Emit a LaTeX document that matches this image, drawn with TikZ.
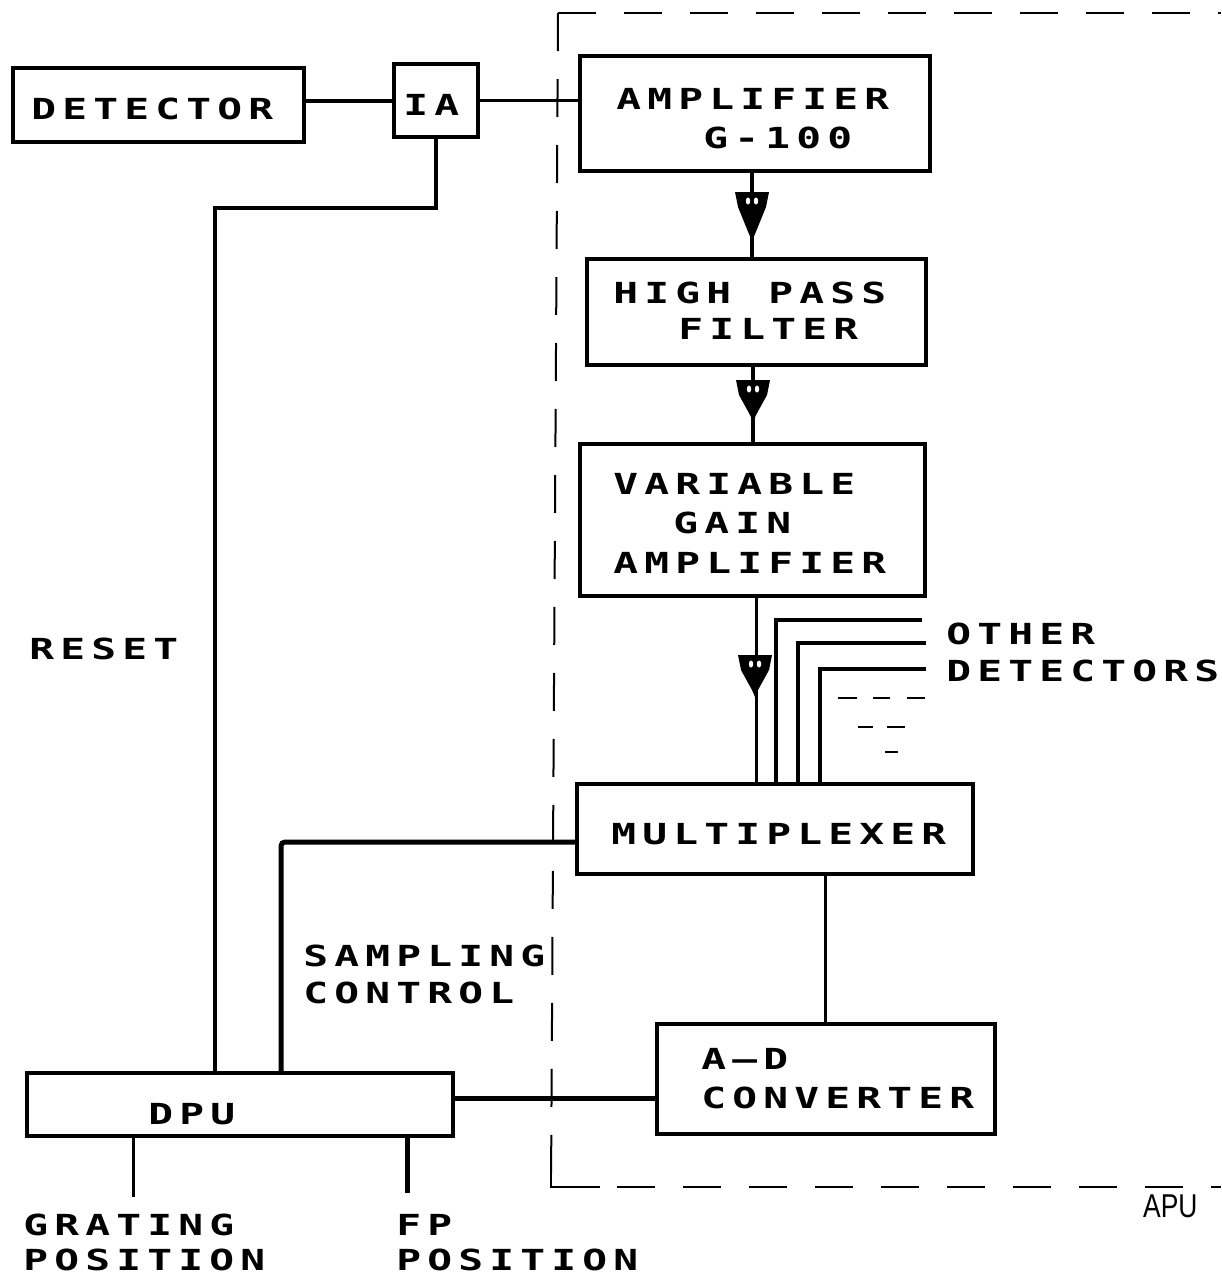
\documentclass[tikz,border=0pt]{standalone}
\usepackage{fontspec}
\usepackage{graphicx}
\setmainfont{DejaVu Sans Mono}
\newfontfamily\handfont{Liberation Sans}
\usetikzlibrary{fit}
\ExplSyntaxOn
\NewDocumentCommand\pltext{m}{\tl_map_inline:nn{#1}{\makebox[31pt][c]{\scalebox{1.42}[1]{##1}}}}
\ExplSyntaxOff
\newcommand\sigtip[3]{%
  \fill (#1-17,#2) -- (#1+17,#2) -- (#1+14,#2+15) -- (#1+3,#3-7) -- (#1,#3) -- (#1-3,#3-7) -- (#1-14,#2+15) -- cycle;
  \fill[white] (#1-4,#2+9) ellipse (2.2 and 3.5);
  \fill[white] (#1+4,#2+9) ellipse (2.2 and 3.5);}
\begin{document}
\begin{tikzpicture}[x=1pt,y=-1pt,
  box/.style={draw, line width=4.5pt, inner sep=0pt},
  thinbox/.style={draw, line width=3.5pt, inner sep=0pt},
  wire/.style={line width=4pt},
  thinwire/.style={line width=3pt},
  lbl/.style={anchor=base west, inner sep=0pt, text depth=0pt, font=\fontsize{29}{32}\selectfont\bfseries},
  dashb/.style={line width=2pt, dash pattern=on 38pt off 28pt}]
\useasboundingbox (0,0) rectangle (1221,1277);

% boxes
\node[box, fit={(13,68) (304,142)}] (det) {};
\node[box, fit={(394,64) (478,137)}] (ia) {};
\node[box, fit={(580,56) (930,171)}] (amp) {};
\node[box, fit={(587,259) (926,365)}] (hpf) {};
\node[thinbox, fit={(580,444) (925,596)}] (vga) {};
\node[thinbox, fit={(577,784) (973,874)}] (mux) {};
\node[box, fit={(657,1024) (995,1134)}] (adc) {};
\node[thinbox, fit={(27,1073) (453,1136)}] (dpu) {};

% texts
\node[lbl] (tdet) at (28,119) {\pltext{DETECTOR}};
\node[lbl] (tia) at (400,115) {\pltext{IA}};
\node[lbl] (tamp1) at (613,109) {\pltext{AMPLIFIER}};
\node[lbl] (tamp2) at (700,148) {\pltext{G-100}};
\node[lbl] (thpf1) at (610,303) {\pltext{HIGH~PASS}};
\node[lbl] (thpf2) at (675,339) {\pltext{FILTER}};
\node[lbl] (tvga1) at (610,494) {\pltext{VARIABLE}};
\node[lbl] (tvga2) at (670,533) {\pltext{GAIN}};
\node[lbl] (tvga3) at (610,573) {\pltext{AMPLIFIER}};
\node[lbl] (toth1) at (943,644) {\pltext{OTHER}};
\node[lbl] (toth2) at (943,681) {\pltext{DETECTORS}};
\node[lbl] (treset) at (26,659) {\pltext{RESET}};
\node[lbl] (tmux) at (608,844) {\pltext{MULTIPLEXER}};
\node[lbl] (tsamp1) at (300,966) {\pltext{SAMPLING}};
\node[lbl] (tsamp2) at (300,1003) {\pltext{CONTROL}};
\node[lbl] (tadc1) at (698,1069) {\pltext{A–D}};
\node[lbl] (tadc2) at (698,1108) {\pltext{CONVERTER}};
\node[lbl] (tdpu) at (145,1124) {\pltext{DPU}};
\node[lbl] (tgr1) at (20,1235) {\pltext{GRATING}};
\node[lbl] (tgr2) at (20,1270) {\pltext{POSITION}};
\node[lbl] (tfp1) at (393,1235) {\pltext{FP}};
\node[lbl] (tfp2) at (393,1270) {\pltext{POSITION}};
\node[anchor=base west, inner sep=0pt, font=\handfont\fontsize{33}{36}\selectfont] (tapu) at (1143,1217) {\scalebox{0.8}[1]{APU}};

% APU boundary
\coordinate (btl) at (558,13);
\coordinate (btr) at (1221,13);
\coordinate (bbl) at (551,1187);
\coordinate (bbr) at (1221,1187);
\draw[dashb] (btl) -- (btr);
\draw[dashb] (btl) -- (bbl);
\draw[dashb] (bbl) -- (bbr);
\draw[line width=2pt] (551,1152) -- (bbl) -- (600,1187);

% connectors
\draw[wire] (ia.west -| det.east) -- (ia.west);
\draw[thinwire] (ia.east) -- (ia.east -| amp.west);
\coordinate (rc) at (215,208);
\draw[wire] (ia.south) |- (rc) -- (rc |- dpu.north);
\coordinate (sc) at (281,842);
\draw[wire, line width=5pt, rounded corners=4pt] (sc -| mux.west) -- (sc) -- (sc |- dpu.north);
\coordinate (ad) at (0,1098);
\draw[wire, line width=5pt] (ad -| dpu.east) -- (ad -| adc.west);
\coordinate (m2a) at (825,0);
\draw[thinwire] (m2a |- mux.south) -- (m2a |- adc.north);
\coordinate (gp) at (133,1197);
\draw[thinwire] (gp |- dpu.south) -- (gp);
\coordinate (fp) at (407,1193);
\draw[wire, line width=5pt] (fp |- dpu.south) -- (fp);

% signal chain
\coordinate (s1) at (752,0);
\draw[wire] (s1 |- amp.south) -- (s1 |- hpf.north);
\sigtip{752}{192}{241}
\coordinate (s2) at (753,0);
\draw[wire] (s2 |- hpf.south) -- (s2 |- vga.north);
\sigtip{753}{380}{422}
\coordinate (s3) at (756,0);
\draw[thinwire] (s3 |- vga.south) -- (s3 |- mux.north);
\sigtip{755}{655}{697}

% other detectors
\coordinate (o1) at (922,620);
\coordinate (o2) at (926,643);
\coordinate (o3) at (926,669);
\draw[wire, line width=3.5pt] (o1) -- (776,620) -- (776,620 |- mux.north);
\draw[wire, line width=3.5pt] (o2) -- (798,643) -- (798,643 |- mux.north);
\draw[wire, line width=3.5pt] (o3) -- (820,669) -- (820,669 |- mux.north);
\foreach \a/\b/\y in {838/857/698, 873/890/698, 907/925/698, 858/873/727, 887/905/727, 885/898/752}
  \draw[line width=2.5pt] (\a,\y) -- (\b,\y);
\end{tikzpicture}
\end{document}
